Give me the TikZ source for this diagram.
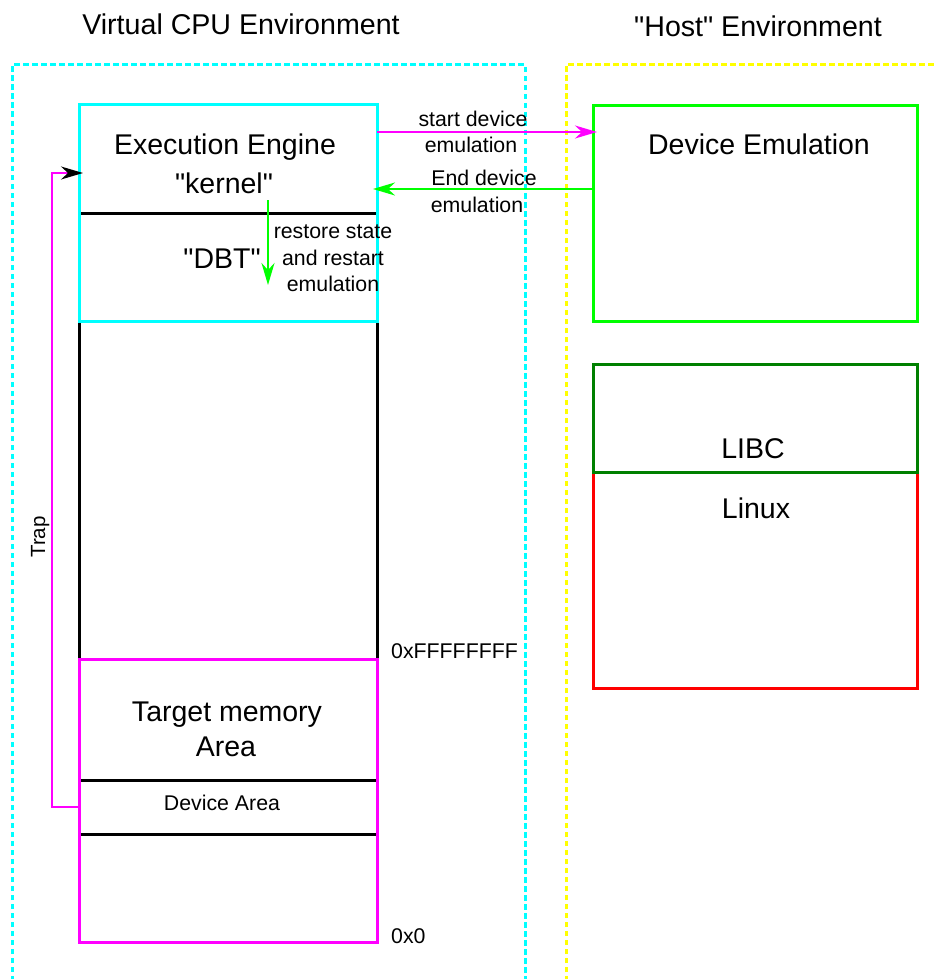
\documentclass[tikz,border=0pt]{standalone}
\usepackage{fontspec}
\setmainfont{Liberation Sans}
% a family without the TeX mapping, so that " stays a straight quote
\newfontfamily\diafont{Liberation Sans}
\usetikzlibrary{arrows.meta}

\definecolor{envcyan}{RGB}{0,255,255}
\definecolor{envyellow}{RGB}{255,255,0}
\definecolor{lmagenta}{RGB}{255,0,255}
\definecolor{lgreen}{RGB}{0,255,0}
\definecolor{dgreen}{RGB}{0,128,0}
\definecolor{lred}{RGB}{255,0,0}

\tikzset{
  title/.style={font=\diafont\fontsize{28.6}{33}\selectfont, anchor=base, inner sep=0pt},
  big/.style={font=\diafont\fontsize{28.5}{33}\selectfont, anchor=base, inner sep=0pt},
  small/.style={font=\diafont\fontsize{21.3}{25}\selectfont, anchor=base, inner sep=0pt},
  small west/.style={small, anchor=base west},
  box/.style={draw, line width=3pt, inner sep=0pt, outer sep=0pt},
  region/.style={inner sep=0pt, outer sep=0pt},
  divider/.style={draw=black, line width=3pt},
  env/.style={line width=3pt, dash pattern=on 5.5pt off 3.5pt, line join=round},
  link/.style={line width=2pt, -{Stealth[length=22pt, width=13pt, inset=7pt]}},
}

\begin{document}
\begin{tikzpicture}[x=1pt, y=-1pt]
\useasboundingbox (0,0) rectangle (935,979);
\clip (0,0) rectangle (935,979);

% environment frames
\draw[env, envcyan] (12,990) -- (12,65) -- (525,65) -- (525,990);
\draw[env, envyellow] (566,990) -- (566,65) -- (945,65);

\node[title] (vtitle) at (241,35) {Virtual CPU Environment};
\node[title] (htitle) at (758,37) {"Host" Environment};

% virtual CPU memory column
\node[region, minimum width=298pt, minimum height=216pt] (exec) at (228,213) {};
\node[region, minimum width=298pt, minimum height=283pt] (mem) at (228,800.5) {};
\node[region, minimum width=298pt, minimum height=54pt] (devarea) at (228,807) {};

\draw[divider] (exec.south west) -- (mem.north west);
\draw[divider] (exec.south east) -- (mem.north east);
\draw[divider] (exec.west) -- (exec.east);
\draw[divider] (devarea.north west) -- (devarea.north east);
\draw[divider] (devarea.south west) -- (devarea.south east);

\draw[box, envcyan] (exec.north west) rectangle (exec.south east);
\draw[box, lmagenta] (mem.north west) rectangle (mem.south east);

\node[big] (eetext) at (225,154) {Execution Engine};
\node[big] (kerntext) at (224,193) {"kernel"};
\node[big] (dbttext) at (222,268) {"DBT"};
\node[small] (rs1) at (333,238) {restore state};
\node[small] (rs2) at (333,265) {and restart};
\node[small] (rs3) at (333,291) {emulation};

\node[big] (tm1) at (227,721) {Target memory};
\node[big] (tm2) at (226,756) {Area};
\node[small] (datext) at (222,810) {Device Area};

\node[small west] (addrhi) at (391,658) {0xFFFFFFFF};
\node[small west] (addrlo) at (391,943) {0x0};

% host side
\node[box, lgreen, minimum width=324pt, minimum height=215pt] (devemu) at (755,213.5) {};
\node[box, lred, minimum width=324pt, minimum height=216pt] (linux) at (755,580) {};
\node[box, dgreen, minimum width=324pt, minimum height=108pt] (libc) at (755,418) {};

\node[big] (detext) at (759,154) {Device Emulation};
\node[big] (libctext) at (753,458) {LIBC};
\node[big] (linuxtext) at (756,518) {Linux};

% connectors
\coordinate (starty) at (0,132);
\coordinate (endy) at (0,189);
\coordinate (trapy) at (0,173);
\coordinate (rsfrom) at (268,200);
\coordinate (rsto) at (268,285);

\draw[link, lmagenta, shorten >=-4pt] (exec.east |- starty) -- (devemu.west |- starty);
\node[small] (sd1) at (473,126) {start device};
\node[small] (sd2) at (471,153) {emulation};

\draw[link, lgreen, shorten >=-4pt] (devemu.west |- endy) -- (exec.east |- endy);
\node[small] (ed1) at (484,185) {End device};
\node[small] (ed2) at (477,212) {emulation};

\draw[link, lgreen] (rsfrom) -- (rsto);

\draw[line width=2pt, lmagenta, -{Stealth[length=22pt, width=13pt, inset=7pt, black]}, shorten >=-4pt]
  (devarea.west) -- ++(-27,0) |- (exec.west |- trapy);
\node[font=\diafont\fontsize{20.5}{24}\selectfont, inner sep=0pt, anchor=base, rotate=90] (traptext) at (45,537) {Trap};
\end{tikzpicture}
\end{document}
